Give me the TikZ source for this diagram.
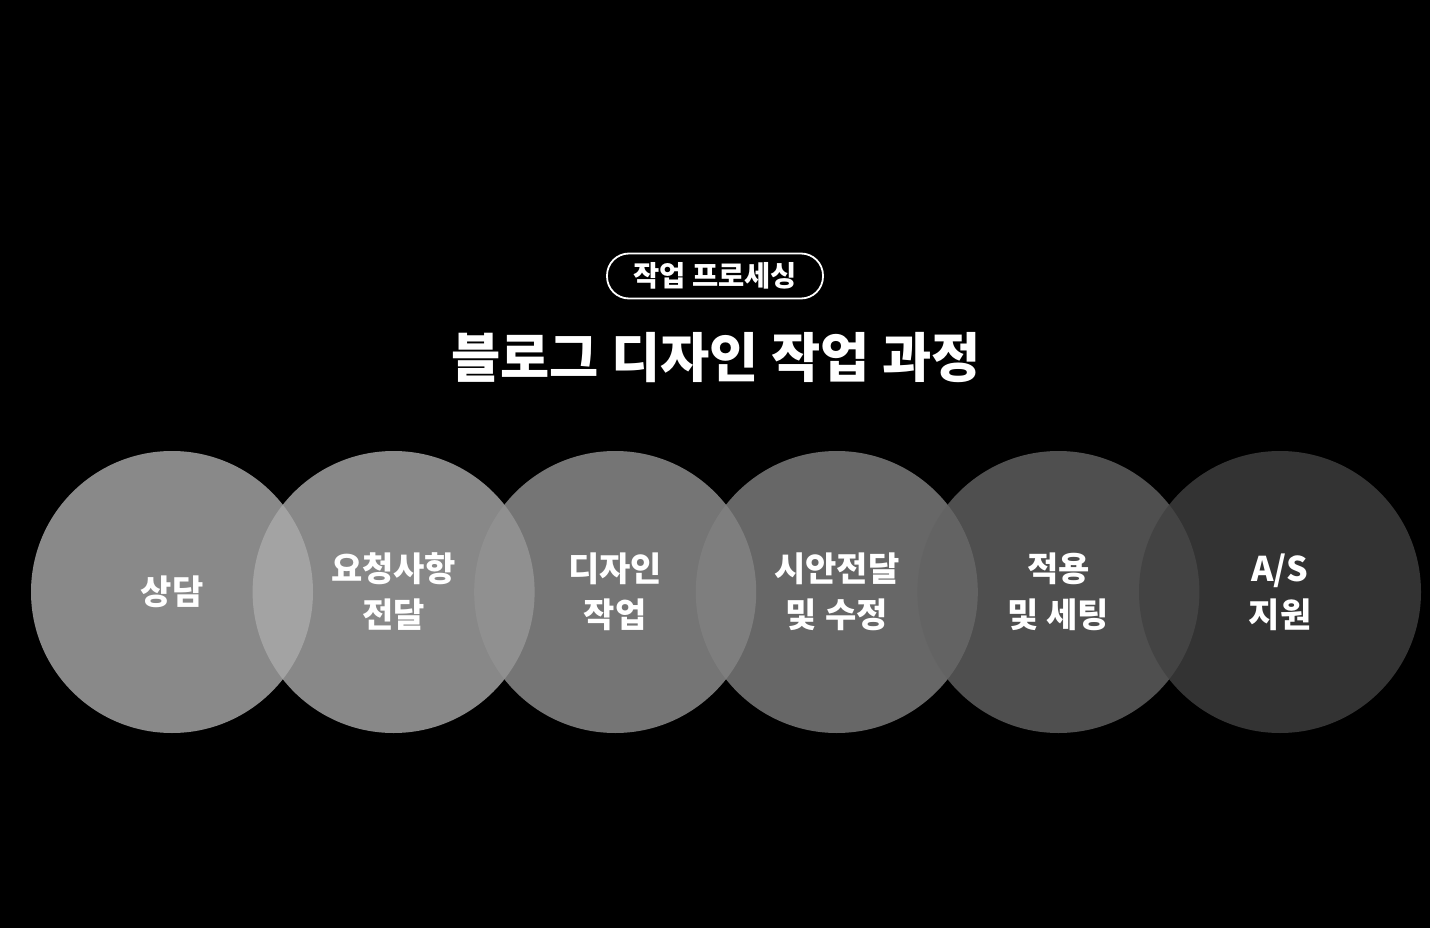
\documentclass[tikz,border=0pt]{standalone}
\usepackage{fontspec}
\setmainfont{Noto Sans CJK KR}
\definecolor{stepA}{gray}{0.676}
\definecolor{stepB}{gray}{0.667}
\definecolor{stepC}{gray}{0.578}
\definecolor{stepD}{gray}{0.505}
\definecolor{stepE}{gray}{0.387}
\definecolor{stepF}{gray}{0.250}
\tikzset{
  stepcircle/.style={circle,minimum size=282pt,inner sep=0pt,fill opacity=0.8,text opacity=1,
    text=white,align=center,font=\fontsize{34}{46}\selectfont\bfseries},
  tagbox/.style={draw=white,line width=1.8pt,rounded corners=22pt,minimum width=216pt,
    minimum height=45pt,inner sep=0pt,text=white,font=\fontsize{28.5}{30}\selectfont\bfseries},
  headline/.style={text=white,font=\fontsize{53.5}{60}\selectfont\bfseries}
}
\begin{document}
\begin{tikzpicture}[x=1pt,y=-1pt]

    % Define the geometry of the row of circles
    \def\xfirst{172}    % centre of the first circle
    \def\xgap{221.6}    % distance between two centres
    \def\yrow{592}      % vertical centre of the row

    % -- Background --
    \fill[black] (0,0) rectangle (1430,928);

    % -- Tag and title --
    \node[tagbox] (tag) at (715,276) {작업 프로세싱};
    \node[headline] (title) at (716,358) {블로그 디자인 작업 과정};

    % -- Circles for the steps --
    \foreach \col/\lab [count=\n] in {stepA/{상담},stepB/{요청사항\\전달},stepC/{디자인\\작업},
        stepD/{시안전달\\및 수정},stepE/{적용\\및 세팅},stepF/{A/S\\지원}}
      \node[stepcircle,fill=\col] (step\n) at ({\xfirst+(\n-1)*\xgap},\yrow) {\lab};

\end{tikzpicture}
\end{document}
